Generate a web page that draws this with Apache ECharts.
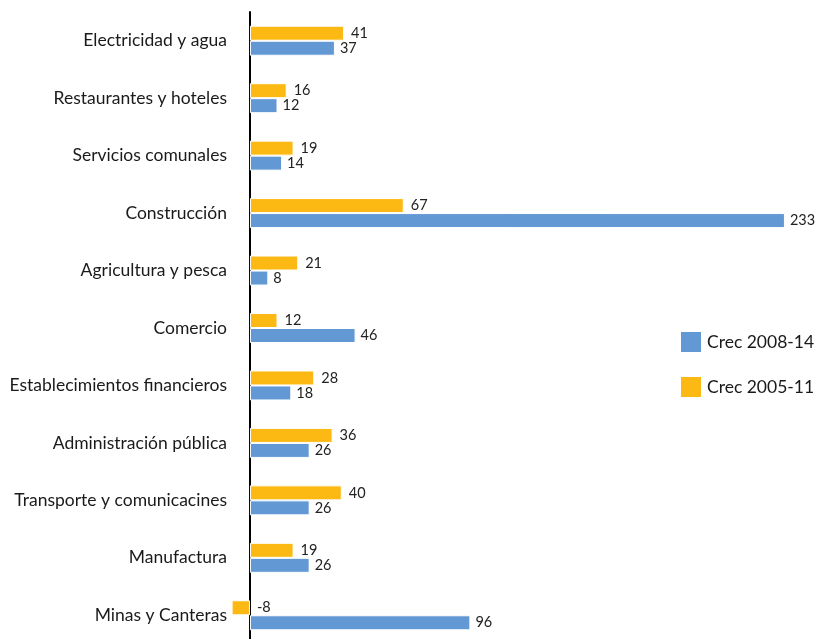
<!DOCTYPE html>
<html><head><meta charset="utf-8">
<script src="https://cdn.jsdelivr.net/npm/echarts@6/dist/echarts.min.js"></script>
<style>html,body{margin:0;padding:0;background:#fff}#c{width:815px;height:639px}</style>
</head><body><div id="c"></div>
<script>
const categories = ["Electricidad y agua","Restaurantes y hoteles","Servicios comunales","Construcción","Agricultura y pesca","Comercio","Establecimientos financieros","Administración pública","Transporte y comunicacines","Manufactura","Minas y Canteras"];
const crec2008_14 = [37,12,14,233,8,46,18,26,26,26,96];
const crec2005_11 = [41,16,19,67,21,12,28,36,40,19,-8];
const FONT = "Lato";
const chart = echarts.init(document.getElementById('c'));
chart.setOption({
  animation:false,
  textStyle:{fontFamily:FONT},
  grid:{left:227, top:12, height:632, width:574, outerBoundsMode:'none', containLabel:false},
  legend:{orient:'vertical', left:674, top:325, itemWidth:22, itemHeight:22, itemGap:21,
    icon:'rect', data:['Crec 2008-14','Crec 2005-11'],
    textStyle:{fontFamily:FONT, fontSize:17.5, color:'#1a1a1a'}},
  xAxis:{type:'value', min:-10, max:240, show:false},
  yAxis:{type:'category', data:categories, inverse:true,
    axisLine:{onZero:true, lineStyle:{color:'#000', width:2}},
    axisTick:{show:false},
    axisLabel:{margin:0, fontSize:17.5, color:'#1a1a1a', fontFamily:FONT}},
  series:[
    {name:'Crec 2005-11', type:'bar', data:crec2005_11, barWidth:15, barGap:'0%',
      itemStyle:{color:'#FDB913', borderColor:'#fff', borderWidth:1},
      label:{show:true, position:'right', distance:7, fontSize:14.5, color:'#222', fontFamily:FONT}},
    {name:'Crec 2008-14', type:'bar', data:crec2008_14, barWidth:15, barGap:'0%',
      itemStyle:{color:'#6298D3', borderColor:'#fff', borderWidth:1},
      label:{show:true, position:'right', distance:5, fontSize:14.5, color:'#222', fontFamily:FONT}}
  ]
});
</script></body></html>
